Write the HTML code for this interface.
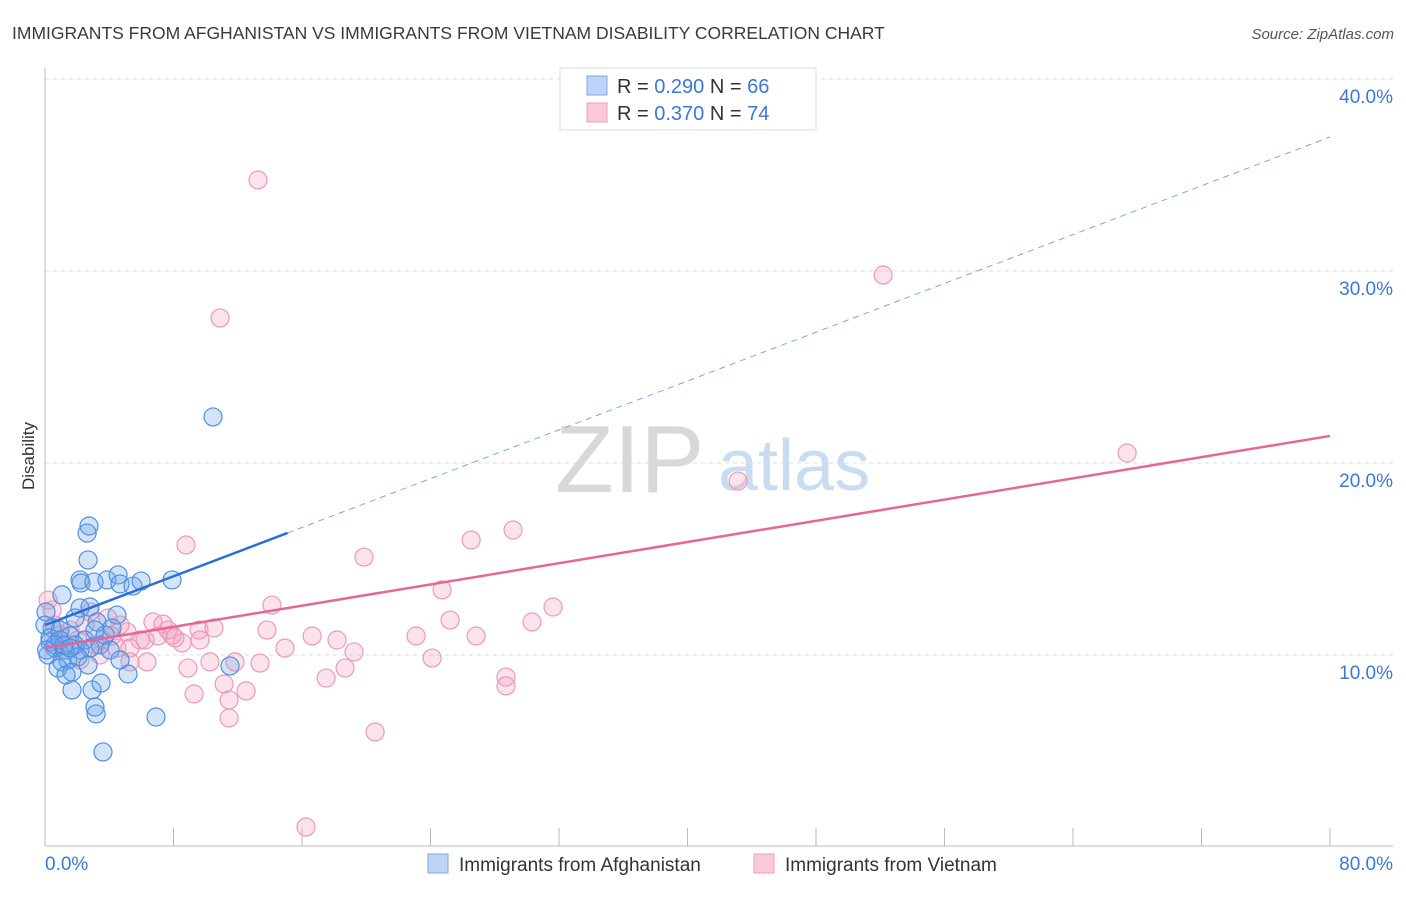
<!DOCTYPE html>
<html><head><meta charset="utf-8"><style>
body{margin:0;background:#fff;font-family:"Liberation Sans",sans-serif;}
svg text{font-family:"Liberation Sans",sans-serif;}
</style></head><body>
<svg id="chart" width="1406" height="892" xmlns="http://www.w3.org/2000/svg">
<text x="12" y="39" font-size="17.5" fill="#3a3a3a">IMMIGRANTS FROM AFGHANISTAN VS IMMIGRANTS FROM VIETNAM DISABILITY CORRELATION CHART</text>
<text x="1394" y="39" font-size="15" fill="#555" text-anchor="end" font-style="italic">Source: ZipAtlas.com</text>
<g>
<text x="555" y="492" font-size="96" fill="#d8d8d8" font-family="Liberation Serif,serif">ZIP</text>
<text x="718" y="490" font-size="72" fill="#c9dcf0">atlas</text>
</g>
<g id="grid"></g>
<g id="axes"></g>
<g id="points"></g>
<g id="trends"></g>
<g>
<rect x="560" y="68" width="256" height="62" fill="#fff" stroke="#ddd"/>
<rect x="587" y="76" width="20" height="19" fill="#bcd5f5" stroke="#7aa9e6"/>
<rect x="587" y="103" width="20" height="19" fill="#f9c9d8" stroke="#eaa0bb"/>
<text x="617" y="93" font-size="20" fill="#333">R = <tspan fill="#3a78d6">0.290</tspan>   N = <tspan fill="#3a78d6">66</tspan></text>
<text x="617" y="120" font-size="20" fill="#333">R = <tspan fill="#3a78d6">0.370</tspan>   N = <tspan fill="#3a78d6">74</tspan></text>
</g>
<g>
<rect x="428" y="854" width="20" height="19" fill="#bcd5f5" stroke="#7aa9e6"/>
<text x="459" y="871" font-size="19" fill="#333">Immigrants from Afghanistan</text>
<rect x="754" y="854" width="20" height="19" fill="#f9c9d8" stroke="#eaa0bb"/>
<text x="785" y="871" font-size="19" fill="#333">Immigrants from Vietnam</text>
</g>
<text transform="translate(34,456) rotate(-90)" font-size="17" fill="#333" text-anchor="middle">Disability</text>
</svg>
<script>
const blueX=[2.74,2.62,2.68,2.18,2.24,3.05,3.86,4.55,4.67,5.48,5.98,7.91,10.46,1.06,0.06,2.18,2.80,1.87,3.24,4.48,0.44,0.93,1.56,2.49,3.42,4.05,0.31,0.62,1.25,0.19,1.06,1.43,2.18,0.81,1.68,1.31,1.68,2.93,3.49,5.17,11.52,3.11,3.18,6.91,3.61,0,0.31,0.62,0.93,1.87,2.80,3.74,3.11,4.17,0.1,2.05,2.68,1.18,1.56,4.67];
const blueY=[16.72,16.35,14.95,13.91,13.75,13.80,13.91,14.17,13.70,13.59,13.85,13.91,22.40,13.13,12.24,12.45,12.50,11.93,11.72,12.08,11.41,11.30,10.99,10.78,10.52,10.26,10.68,10.36,10.26,10.0,9.64,9.74,10.26,9.32,9.11,8.96,8.18,8.18,8.54,9.01,9.43,7.29,6.93,6.77,4.95,11.56,10.89,10.52,10.78,10.52,10.36,11.04,11.30,11.41,10.26,9.90,9.48,10.52,10.36,9.74];
const pinkX=[13.26,52.18,10.90,67.37,43.15,8.78,19.86,26.53,29.14,24.72,31.63,14.13,25.22,30.32,26.84,23.10,16.63,18.18,13.82,14.94,19.24,24.10,17.50,18.68,28.70,28.70,9.28,11.46,12.52,11.15,11.46,20.55,16.25,8.90,10.27,11.83,13.39,6.35,5.29,8.53,9.65,10.52,9.59,7.91,7.35,6.72,7.04,5.92,5.11,4.67,3.92,3.61,4.48,3.11,2.49,1.56,0.93,0.44,0.19,0.62,1.25,2.18,2.05,3.42,5.29,6.23,7.66,8.09,2.80,4.17];
const pinkY=[34.74,29.79,27.55,20.52,19.06,15.73,15.10,15.99,16.51,13.39,12.50,12.60,11.82,11.72,10.99,10.99,10.99,10.78,11.30,10.36,10.16,9.84,8.80,9.32,8.85,8.39,7.97,7.66,8.13,8.49,6.72,5.99,1.04,9.32,9.64,9.64,9.58,9.64,9.64,10.63,10.78,11.41,11.30,11.04,11.61,11.72,10.99,10.78,11.20,11.56,11.93,10.78,10.36,10.52,11.56,11.30,11.04,12.34,12.86,11.56,10.26,9.74,10.78,10.0,10.36,10.78,11.30,10.89,12.24,10.99];
const yTicks=[10,20,30,40];
const yTickLabels=["10.0%","20.0%","30.0%","40.0%"];
const xTickVals=[0,8,16,24,32,40,48,56,64,72,80];
const blueTrend=[11.56,36.98]; const blueSolidEnd=15.1;
const pinkTrend=[10.36,21.41];
const NS="http://www.w3.org/2000/svg";
const sx=v=>45+v*16.0625, sy=v=>847-v*19.2;
function mk(tag,attrs,parent){const e=document.createElementNS(NS,tag);for(const k in attrs)e.setAttribute(k,attrs[k]);document.getElementById(parent).appendChild(e);return e;}
yTicks.forEach((t,i)=>{
 const l=mk('line',{x1:45,x2:1393,y1:sy(t),y2:sy(t),stroke:'#ddd','stroke-dasharray':'4,4'},'grid');
 
 
 const tx=mk('text',{x:1393,y:sy(t)+24,'font-size':19,fill:'#3a78d6','text-anchor':'end'},'grid');
 tx.textContent=yTickLabels[i];
 
 
});
const ya=mk('line',{x1:45,x2:45,y1:68,y2:846,stroke:'#bbb'},'axes');


const xa=mk('line',{x1:45,x2:1393,y1:846,y2:846,stroke:'#bbb'},'axes');


xTickVals.forEach(v=>{const t=mk('line',{x1:sx(v),x2:sx(v),y1:828,y2:846,stroke:'#bbb'},'axes');
 
 });
const xl0=mk('text',{x:45,y:870,'font-size':19,fill:'#3a78d6'},'axes');xl0.textContent="0.0%";


const xl1=mk('text',{x:1393,y:870,'font-size':19,fill:'#3a78d6','text-anchor':'end'},'axes');xl1.textContent="80.0%";


pinkX.forEach((x,i)=>{const c=mk('circle',{cx:sx(x),cy:sy(pinkY[i]),r:9,fill:'rgba(243,160,188,0.3)',stroke:'#eb9ab8','stroke-width':1.2},'points');
 
 });
blueX.forEach((x,i)=>{const c=mk('circle',{cx:sx(x),cy:sy(blueY[i]),r:9,fill:'rgba(110,165,235,0.3)',stroke:'#4f8fe0','stroke-width':1.2},'points');
 
 });
const by=x=>blueTrend[0]+(blueTrend[1]-blueTrend[0])*x/80;
const bs=mk('line',{x1:sx(0),y1:sy(by(0)),x2:sx(blueSolidEnd),y2:sy(by(blueSolidEnd)),stroke:'#2a6fd6','stroke-width':2.5},'trends');


const bd=mk('line',{x1:sx(blueSolidEnd),y1:sy(by(blueSolidEnd)),x2:sx(80),y2:sy(by(80)),stroke:'#7aa6e0','stroke-width':1,'stroke-dasharray':'6,5'},'trends');


const pl=mk('line',{x1:sx(0),y1:sy(pinkTrend[0]),x2:sx(80),y2:sy(pinkTrend[1]),stroke:'#e5679a','stroke-width':2.5},'trends');


</script>
</body></html>
